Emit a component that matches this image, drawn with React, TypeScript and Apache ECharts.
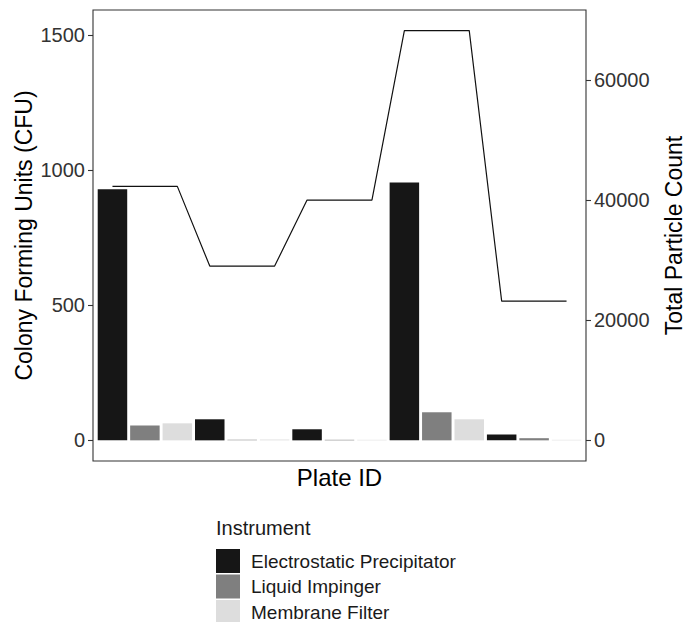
import React, { useEffect, useRef } from "react";
import * as echarts from "echarts";

const plates = ["1", "2", "3", "4", "5"];
const instruments = ["Electrostatic Precipitator", "Liquid Impinger", "Membrane Filter"];
const epValues = [930, 78, 41, 955, 22];
const liValues = [55, 2, 2, 104, 8];
const mfValues = [63, 3, 2, 78, 2];
const particleCounts = [42333, 29050, 40050, 68283, 23217];
const leftTicks = [0, 500, 1000, 1500];
const rightTicks = [0, 20000, 40000, 60000];
const colors = ["#161616", "#7f7f7f", "#dddddd"];

const FONT = "'Liberation Sans', Arial, sans-serif";
const CHART_H = 660;

export default function App() {
  const ref = useRef<HTMLDivElement>(null);
  useEffect(() => {
    document.body.style.margin = "0";
    document.body.style.overflow = "hidden";
    if (!ref.current) return;
    const chart = echarts.init(ref.current, undefined, { renderer: "svg" });
    const groups = [epValues, liValues, mfValues];
    const barSeries = instruments.map((name, j) => ({
      name,
      type: "bar",
      xAxisIndex: 0,
      yAxisIndex: 0,
      barWidth: 29.5,
      barGap: "-100%",
      itemStyle: { color: colors[j] },
      data: plates.map((_, i) => [i * 3 + j + 1, groups[j][i]]),
    }));
    const lineData: number[][] = [];
    plates.forEach((_, i) => {
      lineData.push([i * 3 + 1, particleCounts[i]]);
      lineData.push([i * 3 + 3, particleCounts[i]]);
    });
    const leftMin = -76.5;
    const leftMax = 1594;
    const ratio = 45;
    chart.setOption({
      animation: false,
      textStyle: { fontFamily: FONT },
      grid: {
        left: 93,
        right: 113,
        top: 10,
        bottom: CHART_H - 461,
        show: true,
        borderColor: "#333",
        borderWidth: 1.1,
        backgroundColor: "#fff",
        containLabel: false,
        outerBoundsMode: "none",
      },
      xAxis: {
        type: "value",
        min: 0.4,
        max: 15.6,
        axisLine: { show: false },
        axisTick: { show: false },
        axisLabel: { show: false },
        splitLine: { show: false },
        name: "Plate ID",
        nameLocation: "middle",
        nameGap: 4,
        nameMoveOverlap: false,
        nameTextStyle: { fontSize: 24, color: "#000", fontFamily: FONT },
      },
      yAxis: [
        {
          type: "value",
          min: leftMin,
          max: leftMax,
          position: "left",
          axisLine: { show: false },
          splitLine: { show: false },
          axisTick: { show: true, length: 5, customValues: leftTicks, lineStyle: { color: "#333", width: 1.1 } },
          axisLabel: {
            customValues: leftTicks,
            margin: 8,
            fontSize: 20,
            color: "#333",
            fontFamily: FONT,
            formatter: (v: number) => String(v),
          },
          name: "Colony Forming Units (CFU)",
          nameLocation: "middle",
          nameGap: 58,
          nameRotate: 90,
          nameMoveOverlap: false,
          nameTextStyle: { fontSize: 23, color: "#000", fontFamily: FONT },
        },
        {
          type: "value",
          min: leftMin * ratio,
          max: leftMax * ratio,
          position: "right",
          axisLine: { show: false },
          splitLine: { show: false },
          axisTick: { show: true, length: 5, customValues: rightTicks, lineStyle: { color: "#333", width: 1.1 } },
          axisLabel: {
            customValues: rightTicks,
            margin: 8,
            fontSize: 20,
            color: "#333",
            fontFamily: FONT,
            formatter: (v: number) => String(v),
          },
          name: "Total Particle Count",
          nameLocation: "middle",
          nameGap: 76,
          nameRotate: 90,
          nameMoveOverlap: false,
          nameTextStyle: { fontSize: 23, color: "#000", fontFamily: FONT },
        },
      ],
      legend: {
        data: instruments,
        orient: "vertical",
        left: 216,
        top: 549,
        padding: 0,
        itemWidth: 24,
        itemHeight: 24,
        itemGap: 1.5,
        icon: "rect",
        textStyle: { fontSize: 19, color: "#1a1a1a", fontFamily: FONT, padding: [0, 0, 0, 6] },
      },
      graphic: [
        {
          type: "text",
          left: 216,
          top: 518,
          style: { text: "Instrument", fontSize: 20, fill: "#1a1a1a", fontFamily: FONT },
        },
      ],
      series: [
        ...barSeries,
        {
          name: "Total Particle Count",
          type: "line",
          xAxisIndex: 0,
          yAxisIndex: 1,
          symbol: "none",
          lineStyle: { color: "#111", width: 1.2 },
          data: lineData,
        },
      ],
    });
    return () => chart.dispose();
  }, []);
  return (
    <div style={{ width: 699, height: 622, overflow: "hidden" }}>
      <div ref={ref} style={{ width: 699, height: CHART_H }} />
    </div>
  );
}
